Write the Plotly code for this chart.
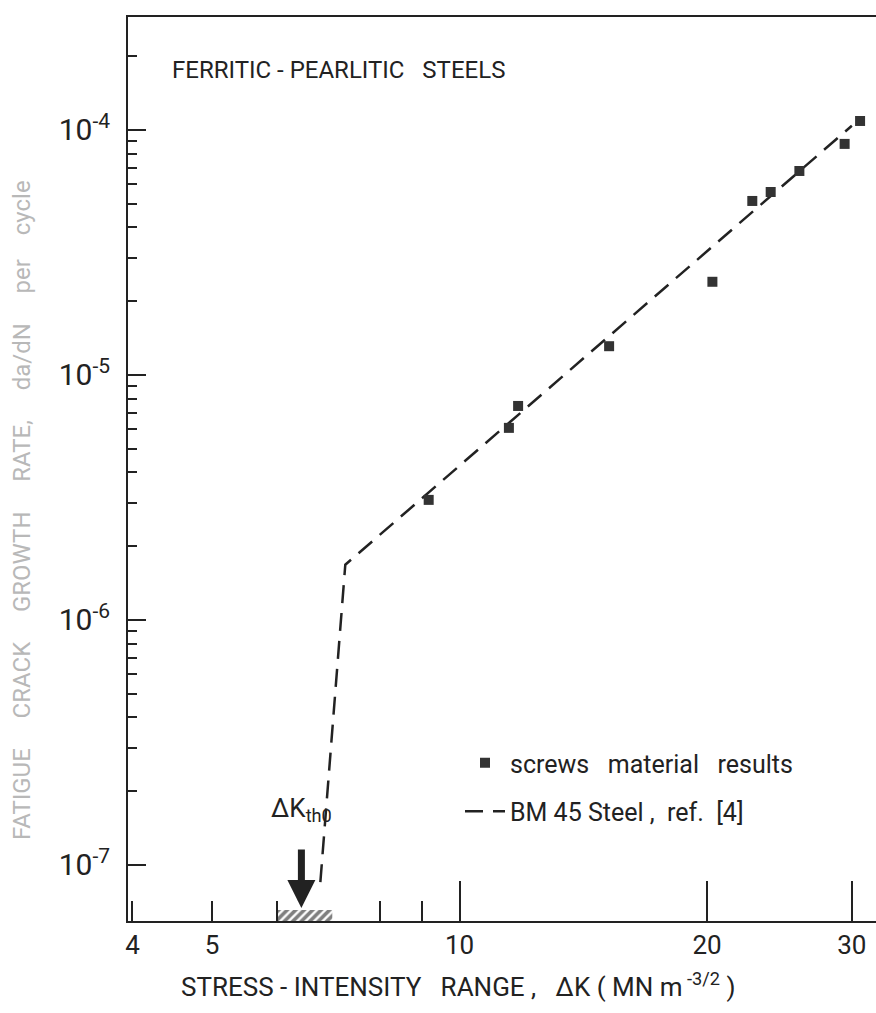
import math
import plotly.graph_objects as go

# ---- data ----
dk_points = [9.17, 11.48, 11.78, 15.2, 20.3, 22.7, 23.9, 25.9, 29.4, 30.7]
rate_points = [3.09e-6, 6.08e-6, 7.47e-6, 1.31e-5, 2.40e-5, 5.13e-5, 5.58e-5, 6.80e-5, 8.77e-5, 1.088e-4]

bm45_dk = [6.77, 7.26, 30.0]
bm45_rate = [8.5e-8, 1.68e-6, 1.04e-4]

threshold_band = [6.0, 7.0]          # hatched dK_th0 band on the dK axis
threshold_arrow_dk = 6.42

x_tick_vals = [4, 5, 10, 20, 30]
x_tick_text = ["4", "5", "10", "20", "30"]
x_long_ticks = [10, 20, 30]
x_minor_ticks = [6, 8, 9]
y_tick_vals = [1e-7, 1e-6, 1e-5, 1e-4]
y_tick_text = ["10<sup>-7</sup>", "10<sup>-6</sup>", "10<sup>-5</sup>", "10<sup>-4</sup>"]

x_range = [math.log10(3.95), math.log10(32.1)]
y_range = [-7.229, -3.539]

FONT = "Roboto, Liberation Sans, sans-serif"
INK = "#222222"
NB = "\u00a0"

# plot area in pixels (for placing free text)
L, R, T, B = 128, 876, 17, 921


def px_x(p):
    return (p - L) / (R - L)


def px_y(p):
    return (B - p) / (B - T)


y_minor = [m * 10.0 ** e for e in (-7, -6, -5) for m in range(2, 10)] + [2e-4]

fig = go.Figure()

# hatched threshold band along the bottom axis
y_bot = 10 ** y_range[0]
y_hatch = 10 ** (y_range[0] + 0.045)
fig.add_trace(go.Scatter(
    x=[threshold_band[0], threshold_band[1], threshold_band[1], threshold_band[0], threshold_band[0]],
    y=[y_bot, y_bot, y_hatch, y_hatch, y_bot],
    mode="lines", line=dict(width=0), fill="toself",
    fillcolor="rgba(0,0,0,0)",
    fillpattern=dict(shape="/", fgcolor="#000000", size=6, solidity=0.6),
    showlegend=False, hoverinfo="skip"))

fig.add_trace(go.Scatter(
    x=bm45_dk, y=bm45_rate, mode="lines",
    line=dict(color=INK, width=2.5, dash="18px,10px"),
    name="BM" + NB + "45" + NB + "Steel" + NB + "," + NB + NB + "ref." + NB + NB + "[4]",
    legendgroup="b", legendrank=2))

fig.add_trace(go.Scatter(
    x=dk_points, y=rate_points, mode="markers",
    marker=dict(symbol="square", size=10, color="#333333"),
    name="screws" + NB * 3 + "material" + NB * 3 + "results",
    legendgroup="a", legendrank=1))

# invisible trace carrying the overlay axis for the long ticks
fig.add_trace(go.Scatter(x=[10], y=[1e-6], xaxis="x2", mode="markers",
                         marker=dict(opacity=0), showlegend=False, hoverinfo="skip"))

fig.update_layout(
    width=876, height=1013,
    margin=dict(l=L, r=876 - R, t=T, b=1013 - B, autoexpand=False),
    paper_bgcolor="white", plot_bgcolor="white",
    font=dict(family=FONT, color=INK, size=24),
    xaxis=dict(
        type="log", range=x_range, automargin=False,
        tickvals=x_tick_vals, ticktext=x_tick_text,
        ticks="inside", ticklen=20, tickwidth=1.5, tickcolor=INK,
        minor=dict(tickvals=x_minor_ticks, ticks="inside", ticklen=20, tickwidth=1.5, tickcolor=INK),
        showline=True, linecolor=INK, linewidth=2, mirror=True,
        showgrid=False, zeroline=False,
        tickfont=dict(size=26),
        ticklabelstandoff=0,
    ),
    xaxis2=dict(
        type="log", range=x_range, overlaying="x", anchor="y", side="bottom", automargin=False,
        tickvals=x_long_ticks, ticks="inside", ticklen=40, tickwidth=1.5, tickcolor=INK,
        showticklabels=False, showline=False, showgrid=False, zeroline=False,
    ),
    yaxis=dict(
        type="log", range=y_range, automargin=False,
        tickvals=y_tick_vals, ticktext=y_tick_text,
        ticks="inside", ticklen=18, tickwidth=1.5, tickcolor=INK,
        minor=dict(tickvals=y_minor, ticks="inside", ticklen=9, tickwidth=1.5, tickcolor=INK),
        showline=True, linecolor=INK, linewidth=2, mirror=False,
        showgrid=False, zeroline=False,
        tickfont=dict(size=30),
        ticklabelstandoff=10,
    ),
    legend=dict(
        x=px_x(460), y=px_y(740), xanchor="left", yanchor="top",
        bgcolor="rgba(0,0,0,0)", font=dict(size=25, color=INK),
        traceorder="grouped", itemwidth=40, tracegroupgap=13,
    ),
    showlegend=True,
)

# axis titles
fig.add_annotation(
    text="STRESS" + NB + "-" + NB + "INTENSITY" + NB * 3 + "RANGE" + NB + "," + NB * 3 +
         "ΔK" + NB + "(" + NB + "MN" + NB + "m<sup>" + NB + "-3/2</sup>" + NB + ")",
    xref="paper", yref="paper", x=px_x(458), y=px_y(985),
    xanchor="center", yanchor="middle", showarrow=False, font=dict(size=26, color=INK))

fig.add_annotation(
    text="FATIGUE" + NB * 5 + "CRACK" + NB * 5 + "GROWTH" + NB * 5 + "RATE," + NB * 5 +
         "da/dN" + NB * 5 + "per" + NB * 4 + "cycle",
    xref="paper", yref="paper", x=px_x(22), y=px_y(510), textangle=-90,
    xanchor="center", yanchor="middle", showarrow=False, font=dict(size=24, color="#b8b8b8"))

fig.add_annotation(
    text="FERRITIC" + NB + "-" + NB + "PEARLITIC" + NB * 3 + "STEELS",
    xref="paper", yref="paper", x=px_x(170), y=px_y(70),
    xanchor="left", yanchor="middle", showarrow=False, font=dict(size=24, color=INK))

fig.add_annotation(
    text="ΔK<sub>th0</sub>", xref="x", yref="y",
    x=math.log10(6.42), y=-6.775, showarrow=False, font=dict(size=26, color=INK))

fig.add_annotation(
    text="", xref="x", yref="y",
    x=math.log10(threshold_arrow_dk), y=-7.176,
    ax=0, ay=-60, axref="pixel", ayref="pixel",
    showarrow=True, arrowhead=2, arrowwidth=7, arrowsize=0.8, arrowcolor=INK)

fig.write_html("out.html", config={"displayModeBar": False},
               post_script="document.body.style.margin='0px';")
